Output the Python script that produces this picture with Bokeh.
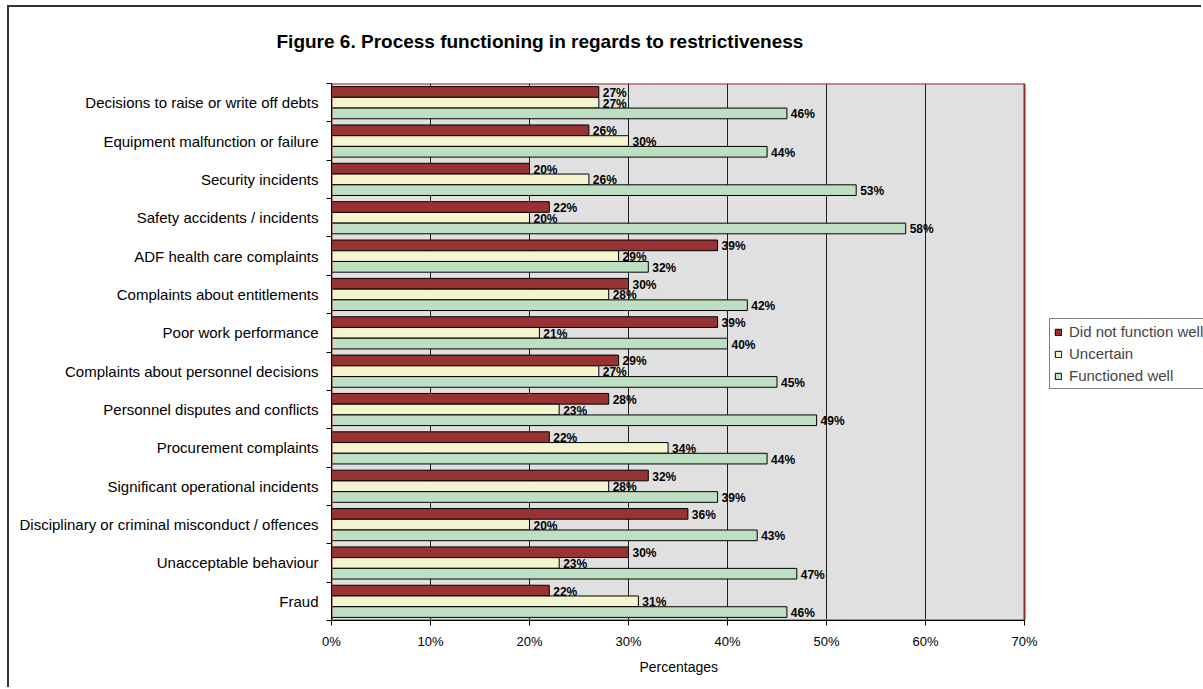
from bokeh.plotting import figure
from bokeh.models import (ColumnDataSource, FixedTicker, Legend, LegendItem, Range1d, Title)
from bokeh.core.properties import value
from bokeh.embed import file_html
from bokeh.resources import INLINE

categories = [
    "Decisions to raise or write off debts",
    "Equipment malfunction or failure",
    "Security incidents",
    "Safety accidents / incidents",
    "ADF health care complaints",
    "Complaints about entitlements",
    "Poor work performance",
    "Complaints about personnel decisions",
    "Personnel disputes and conflicts",
    "Procurement complaints",
    "Significant operational incidents",
    "Disciplinary or criminal misconduct / offences",
    "Unacceptable behaviour",
    "Fraud",
]
did_not_function_well = [27, 26, 20, 22, 39, 30, 39, 29, 28, 22, 32, 36, 30, 22]
uncertain = [27, 30, 26, 20, 29, 28, 21, 27, 23, 34, 28, 20, 23, 31]
functioned_well = [46, 44, 53, 58, 32, 42, 40, 45, 49, 44, 39, 43, 47, 46]
series_names = ["Did not function well", "Uncertain", "Functioned well"]
x_ticks = [0, 10, 20, 30, 40, 50, 60, 70]
x_tick_labels = ["0%", "10%", "20%", "30%", "40%", "50%", "60%", "70%"]
x_axis_label = "Percentages"
title_text = "Figure 6. Process functioning in regards to restrictiveness"

FONT = "Liberation Sans"
colors = ["#993333", "#F4F4CE", "#BFDFC2"]
n = len(categories)
centers = [n - 0.5 - i for i in range(n)]
offsets = [0.28, 0.0, -0.28]
bar_h = 0.278
x_max = x_ticks[-1]
x_view_end = x_max * 872.0 / 693.0  # frame continues to the right edge (legend area)

p = figure(width=1194, height=682, output_backend="svg", toolbar_location=None,
           x_range=Range1d(0, x_view_end), y_range=Range1d(0, n),
           min_border_left=322, min_border_right=0, min_border_top=76,
           min_border_bottom=69)
p.styles = {"border-top": "2px solid #333333", "border-left": "2px solid #333333",
            "margin-left": "7px", "margin-top": "5px"}

p.background_fill_color = "white"
p.border_fill_color = "white"
p.outline_line_color = None

# plot-area background (only up to 70%)
p.quad(left=[0], right=[x_max], bottom=[0], top=[n], fill_color="#E0E0E0",
       line_color=None, level="underlay")

# grid
p.ygrid.visible = False
p.xgrid.ticker = FixedTicker(ticks=x_ticks[1:-1])
p.xgrid.grid_line_color = "#202020"
p.xgrid.grid_line_width = 1

series = [did_not_function_well, uncertain, functioned_well]
renderers = []
for vals, name, col, off in zip(series, series_names, colors, offsets):
    ys = [c + off for c in centers]
    src = ColumnDataSource(dict(y=ys, right=vals,
                                lx=[v + 0.4 for v in vals],
                                txt=["%d%%" % v for v in vals]))
    r = p.hbar(y="y", right="right", left=0, height=bar_h, source=src,
               fill_color=col, line_color="#000000", line_width=1)
    renderers.append((name, r))
    p.text(x="lx", y="y", text="txt", source=src, text_font=value(FONT),
           text_font_size="12px", text_font_style="bold", text_color="black",
           text_baseline="middle", text_align="left", y_offset=1)

# dark-red plot-area border
p.quad(left=[0], right=[x_max], bottom=[0], top=[n], fill_color=None,
       line_color="#8E2B2B", line_width=2)

# spacer between frame and title (panels stack outward from the frame)
p.add_layout(Title(text=" ", text_font_size="1px", standoff=29), "above")

# title (outermost panel)
p.title.text = title_text
p.title.text_font = FONT
p.title.text_font_size = "19px"
p.title.text_font_style = "bold"
p.title.text_color = "black"
p.title.align = "left"
p.title.offset = -55
p.title.standoff = 0

# x axis
xa = p.xaxis[0]
xa.ticker = FixedTicker(ticks=x_ticks)
xa.bounds = (0, x_max)
xa.major_label_overrides = {t: l for t, l in zip(x_ticks, x_tick_labels)}
xa.minor_tick_line_color = None
xa.major_tick_in = 0
xa.major_tick_out = 5
xa.axis_line_color = "black"
xa.major_tick_line_color = "black"
xa.major_label_text_font = FONT
xa.major_label_text_font_size = "13px"
xa.major_label_text_color = "black"
xa.major_label_standoff = 8

# x axis title, centred under the 0-70% span
p.add_layout(Title(text=x_axis_label, text_font=FONT, text_font_size="14px",
                   text_font_style="normal", text_color="black", align="left",
                   offset=308, standoff=11), "below")

# y axis
ya = p.yaxis[0]
ya.ticker = FixedTicker(ticks=centers, minor_ticks=list(range(0, n + 1)))
ya.major_label_overrides = {c: cat for c, cat in zip(centers, categories)}
ya.major_tick_in = 0
ya.major_tick_out = 0
ya.minor_tick_in = 0
ya.minor_tick_out = 5
ya.minor_tick_line_color = "black"
ya.axis_line_color = "black"
ya.major_label_text_font = FONT
ya.major_label_text_font_size = "15px"
ya.major_label_text_color = "black"
ya.major_label_standoff = 8

# legend
legend = Legend(items=[LegendItem(label=nm, renderers=[r]) for nm, r in renderers],
                location=(718, 231), orientation="vertical",
                glyph_width=8, glyph_height=8, label_text_font=FONT,
                label_text_font_size="15px", label_height=16, spacing=5,
                padding=4, margin=0, label_standoff=7,
                border_line_color="black", border_line_width=1,
                background_fill_color="white", background_fill_alpha=1)
p.add_layout(legend, "center")

open("out.html", "w").write(file_html(p, INLINE))
